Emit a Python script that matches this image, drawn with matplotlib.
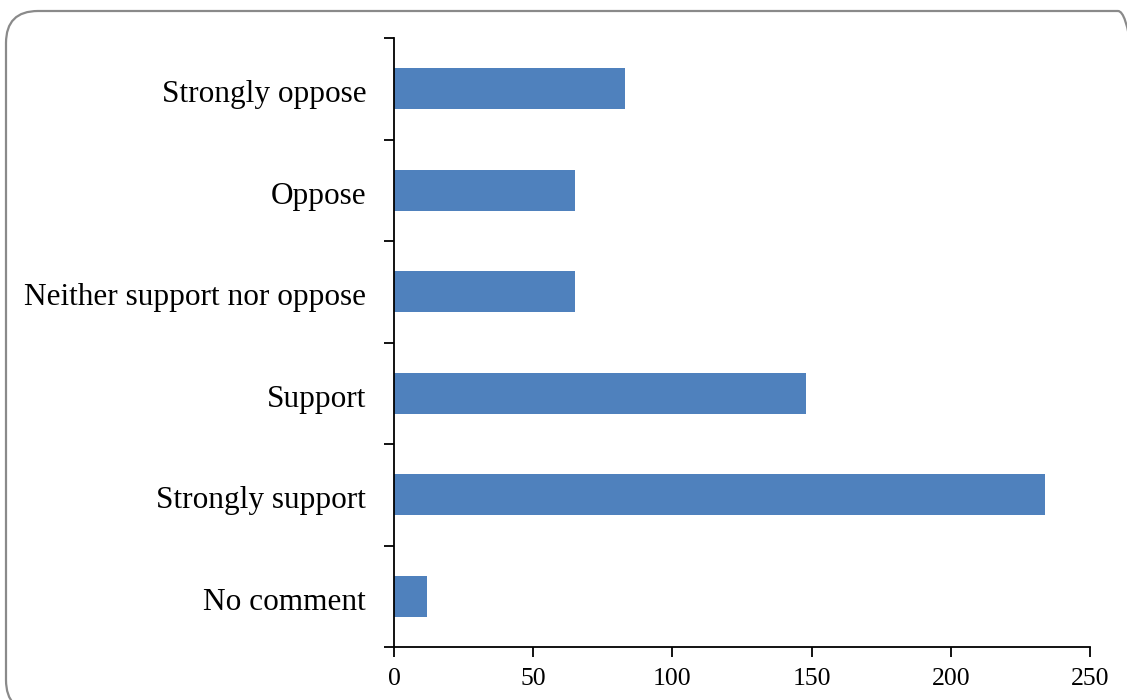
import matplotlib
matplotlib.use("Agg")
import matplotlib.pyplot as plt
from matplotlib.patches import FancyBboxPatch
from matplotlib.transforms import ScaledTranslation
import numpy as np

categories = ["No comment", "Strongly support", "Support",
              "Neither support nor oppose", "Oppose", "Strongly oppose"]
values = [12, 234, 148, 65, 65, 83]
x_ticks = [0, 50, 100, 150, 200, 250]

plt.rcParams['font.family'] = ['Liberation Serif', 'DejaVu Serif']

W, H = 1127, 700
DPI = 100
fig = plt.figure(figsize=(W / DPI, H / DPI), dpi=DPI)

# rounded border (extends past right/bottom edge), in inches
x0, y0, x1, y1 = 6, 11, 1150, 712
r = 32
border = FancyBboxPatch((x0 / DPI, (H - y1) / DPI), (x1 - x0) / DPI, (y1 - y0) / DPI,
                        boxstyle=f"round,pad=0,rounding_size={r / DPI}",
                        transform=fig.dpi_scale_trans, fill=False,
                        edgecolor="#8a8a8a", linewidth=1.6, clip_on=False)
fig.patches.append(border)

ax = fig.add_axes([394 / W, 1 - 647 / H, (1090 - 394) / W, (647 - 38) / H])
y = np.arange(len(categories))
ax.barh(y, values, height=0.4, color="#4f81bd")
ax.set_xlim(0, 250)
ax.set_ylim(-0.5, len(categories) - 0.5)
ax.set_xticks(x_ticks)
ax.set_xticklabels([str(t) for t in x_ticks], fontsize=18.5)
ax.set_yticks(y)
ax.set_yticklabels(categories, fontsize=22.5)
ax.set_yticks(np.arange(-0.5, len(categories), 1.0), minor=True)
ax.tick_params(axis='y', which='major', length=0, pad=20)
ax.tick_params(axis='y', which='minor', length=7, width=1.3, direction='out')
ax.tick_params(axis='x', length=7, width=1.3, direction='out', pad=8)
for s in ["top", "right"]:
    ax.spines[s].set_visible(False)
for s in ["left", "bottom"]:
    ax.spines[s].set_linewidth(1.3)

offset = ScaledTranslation(0, -13.5 / DPI, fig.dpi_scale_trans)
for lbl in ax.get_yticklabels():
    lbl.set_verticalalignment('baseline')
    lbl.set_transform(lbl.get_transform() + offset)

fig.savefig("out.png", dpi=DPI)
